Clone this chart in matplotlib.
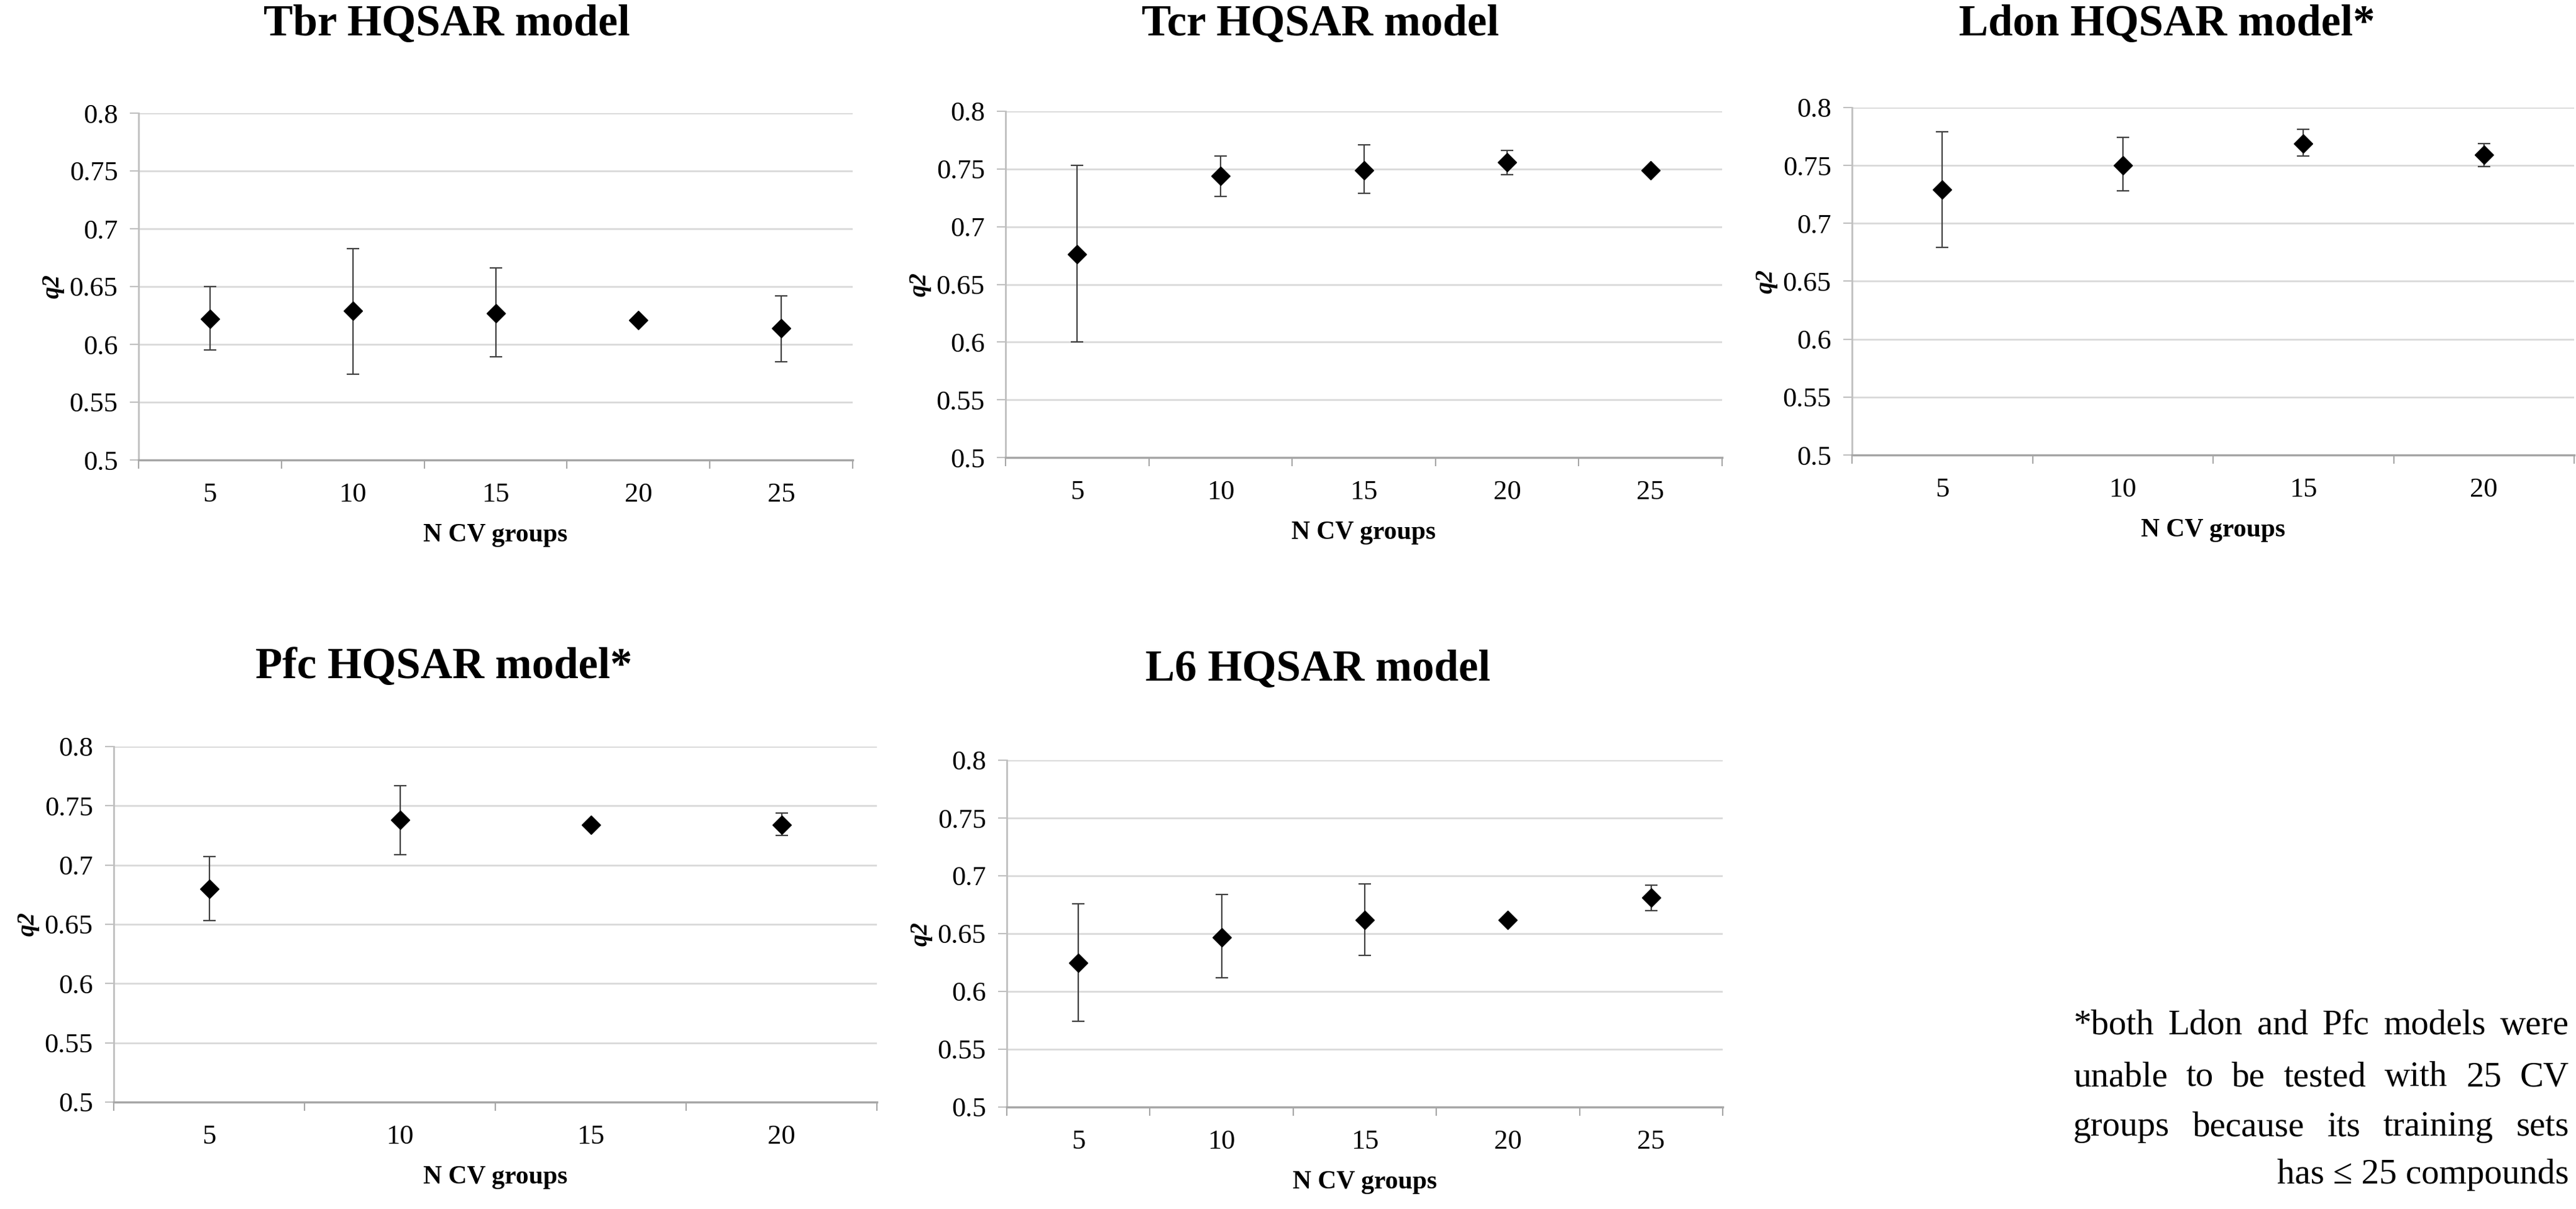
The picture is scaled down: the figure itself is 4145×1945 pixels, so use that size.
import numpy as np
import matplotlib
matplotlib.use("Agg")
import matplotlib.pyplot as plt

plt.rcParams['font.family'] = ['Liberation Serif', 'DejaVu Serif']

# q2 per number of CV groups: mean, top and bottom of the error bar
tbr_groups = [5, 10, 15, 20, 25]
tbr_q2 = [0.622, 0.629, 0.627, 0.621, 0.614]
tbr_hi = [0.650, 0.683, 0.666, 0.621, 0.642]
tbr_lo = [0.595, 0.574, 0.589, 0.621, 0.585]

tcr_groups = [5, 10, 15, 20, 25]
tcr_q2 = [0.676, 0.744, 0.749, 0.756, 0.749]
tcr_hi = [0.753, 0.761, 0.771, 0.766, 0.749]
tcr_lo = [0.600, 0.726, 0.729, 0.745, 0.749]

ldon_groups = [5, 10, 15, 20]
ldon_q2 = [0.729, 0.750, 0.769, 0.759]
ldon_hi = [0.779, 0.774, 0.781, 0.769]
ldon_lo = [0.679, 0.728, 0.758, 0.749]

pfc_groups = [5, 10, 15, 20]
pfc_q2 = [0.680, 0.738, 0.734, 0.734]
pfc_hi = [0.707, 0.767, 0.734, 0.744]
pfc_lo = [0.653, 0.709, 0.734, 0.725]

l6_groups = [5, 10, 15, 20, 25]
l6_q2 = [0.625, 0.647, 0.662, 0.662, 0.681]
l6_hi = [0.676, 0.684, 0.693, 0.662, 0.692]
l6_lo = [0.574, 0.612, 0.631, 0.662, 0.670]

y_ticks = [0.5, 0.55, 0.6, 0.65, 0.7, 0.75, 0.8]
y_labels = ['0.5', '0.55', '0.6', '0.65', '0.7', '0.75', '0.8']

footnote = ["*both Ldon and Pfc models were",
            "unable to be tested with 25 CV",
            "groups because its training sets",
            "has \u2264 25 compounds"]

W, H = 4145, 1945
fig = plt.figure(figsize=(W / 100, H / 100), dpi=100)

# panel layout in pixels: left, right, top, bottom, title centre x, title centre y
panels = [
    ("Tbr HQSAR model", tbr_groups, tbr_q2, tbr_hi, tbr_lo, (223, 1372, 182, 740, 719, 40)),
    ("Tcr HQSAR model", tcr_groups, tcr_q2, tcr_hi, tcr_lo, (1618, 2771, 179, 736, 2125, 40)),
    ("Ldon HQSAR model*", ldon_groups, ldon_q2, ldon_hi, ldon_lo, (2980, 4142, 173, 732, 3487, 40)),
    ("Pfc HQSAR model*", pfc_groups, pfc_q2, pfc_hi, pfc_lo, (183, 1411, 1201, 1773, 714, 1073)),
    ("L6 HQSAR model", l6_groups, l6_q2, l6_hi, l6_lo, (1620, 2772, 1223, 1781, 2121, 1077)),
]

for title, groups, q2, hi, lo, (l, r, t, b, tx, ty) in panels:
    ax = fig.add_axes([l / W, 1 - b / H, (r - l) / W, (b - t) / H])
    n = len(groups)
    pos = np.arange(n)
    q2 = np.array(q2)
    yerr = [q2 - np.array(lo), np.array(hi) - q2]
    ax.errorbar(pos, q2, yerr=yerr, fmt='D', color='black', ms=15,
                ecolor='#404040', elinewidth=1.6, capsize=7, capthick=1.6)
    ax.set_xlim(-0.5, n - 0.5)
    ax.set_ylim(0.5, 0.8)
    ax.set_yticks(y_ticks)
    ax.set_yticklabels(y_labels, fontsize=32)
    ax.yaxis.grid(True, color='#d9d9d9', lw=2)
    ax.set_axisbelow(True)
    # ticks between categories, labels at category centres
    ax.set_xticks(np.arange(n + 1) - 0.5)
    ax.set_xticklabels([])
    ax.set_xticks(pos, minor=True)
    ax.set_xticklabels([str(g) for g in groups], minor=True, fontsize=32)
    ax.tick_params(axis='x', which='major', length=10, width=1.5, color='#a6a6a6')
    ax.tick_params(axis='x', which='minor', length=0, pad=26)
    ax.tick_params(axis='y', length=10, width=1.5, color='#bfbfbf', pad=14)
    for s in ['top', 'right']:
        ax.spines[s].set_visible(False)
    ax.spines['left'].set_color('#bfbfbf')
    ax.spines['left'].set_linewidth(2)
    ax.spines['bottom'].set_color('#a6a6a6')
    ax.spines['bottom'].set_linewidth(2.5)
    ax.set_xlabel("N CV groups", fontsize=30, fontweight='bold', va='center')
    ax.xaxis.set_label_coords(0.5, -121 / (b - t))
    ax.set_ylabel("q2", fontsize=28, fontweight='bold', style='italic', va='center')
    ax.yaxis.set_label_coords(-138 / (r - l), 0.5)
    fig.text(tx / W, 1 - ty / H, title, fontsize=51, fontweight='bold',
             ha='center', va='center')

# justified footnote in the empty bottom-right corner
x0, x1 = 3336, 4134
line_y = [1650, 1733, 1813, 1890]
rend = fig.canvas.get_renderer()
for i, (line, y) in enumerate(zip(footnote, line_y)):
    if i == len(footnote) - 1:
        fig.text(x1 / W, 1 - y / H, line, fontsize=41, ha='right', va='center')
        continue
    words = line.split()
    objs = [fig.text(0, 1 - y / H, w, fontsize=41, ha='left', va='center') for w in words]
    widths = [o.get_window_extent(rend).width for o in objs]
    gap = (x1 - x0 - sum(widths)) / (len(words) - 1)
    x = x0
    for o, wd in zip(objs, widths):
        o.set_x(x / W)
        x += wd + gap

fig.savefig("out.png", dpi=100)
